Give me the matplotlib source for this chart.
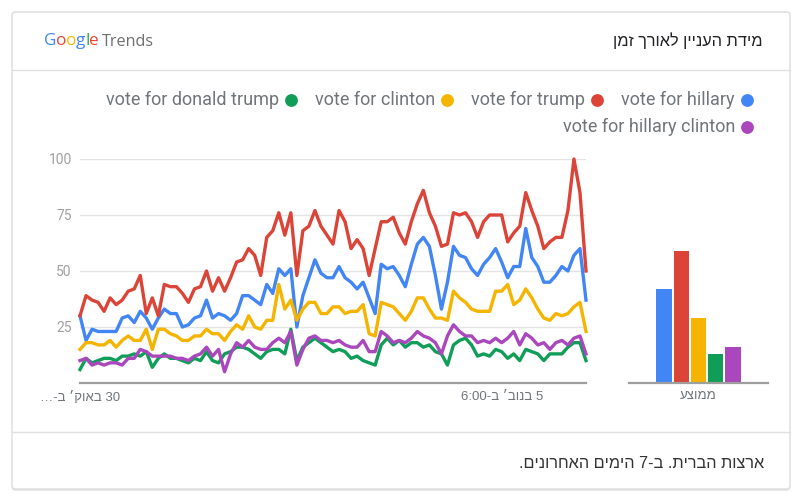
import re
import numpy as np
import matplotlib
matplotlib.use("Agg")
import matplotlib.pyplot as plt
from matplotlib.patches import FancyBboxPatch

# ---------------- data ----------------
series_names = ["vote for hillary", "vote for trump", "vote for clinton",
                "vote for donald trump", "vote for hillary clinton"]
series_colors = ["#4285F4", "#DB4437", "#F4B400", "#0F9D58", "#AB47BC"]

hours = np.arange(85) * 2  # every two hours over 7 days

vote_for_hillary = [30, 19, 24, 23, 23, 23, 23, 29, 30, 27, 32, 29, 24, 29, 33, 31, 31, 25, 26, 29,
                    30, 37, 29, 31, 30, 28, 31, 39, 39,
                    37, 35, 44, 40, 51, 48, 51, 25, 39, 47, 55, 49, 47, 47, 52, 47, 45, 42, 45, 38,
                    31, 53, 51, 52, 48, 43, 53, 62,
                    65, 61, 48, 33, 45, 61, 57, 56, 51, 48, 53, 56, 60, 54, 47, 52, 52, 69, 56, 52,
                    45, 45, 48, 52, 50, 57, 60, 37]
vote_for_trump = [30, 39, 37, 36, 32, 38, 35, 37, 41, 42, 48, 31, 38, 30, 44, 43, 43, 40, 36, 42,
                  43, 50, 41, 47, 41, 47, 54, 55, 60,
                  57, 48, 65, 68, 76, 66, 76, 48, 68, 70, 77, 70, 66, 62, 77, 72, 60, 64, 60, 48,
                  60, 72, 72, 74, 67, 62, 72, 80,
                  86, 76, 70, 61, 62, 76, 75, 76, 72, 65, 72, 75, 75, 75, 63, 67, 70, 85, 77, 70,
                  60, 63, 65, 65, 77, 100, 85, 50]
vote_for_clinton = [15, 18, 18, 17, 17, 19, 16, 19, 21, 19, 19, 24, 15, 24, 24, 22, 21, 19, 19, 21,
                    21, 24, 22, 22, 19, 23, 26, 24, 30,
                    25, 24, 28, 28, 44, 33, 37, 28, 33, 36, 36, 31, 31, 34, 34, 31, 32, 32, 35, 22,
                    21, 36, 35, 34, 31, 28, 32, 38,
                    38, 33, 29, 29, 28, 41, 38, 36, 33, 32, 32, 32, 41, 41, 44, 35, 37, 42, 38, 33,
                    29, 28, 31, 30, 31, 34, 36, 23]
vote_for_donald_trump = [6, 11, 9, 10, 11, 11, 10, 12, 12, 13, 12, 14, 7, 11, 13, 11, 11, 10, 9, 11,
                         10, 14, 10, 9, 13, 14, 16, 16, 15,
                         13, 11, 14, 15, 15, 13, 24, 10, 16, 18, 20, 18, 16, 14, 15, 14, 11, 12, 10, 9,
                         8, 17, 20, 17, 19, 16, 18, 18,
                         16, 17, 14, 13, 8, 17, 19, 20, 17, 12, 13, 12, 15, 14, 11, 13, 10, 15, 14, 13,
                         10, 13, 13, 13, 16, 18, 18, 10]
vote_for_hillary_clinton = [10, 11, 8, 9, 8, 9, 9, 8, 11, 11, 15, 14, 12, 12, 12, 12, 11, 11, 10, 12,
                            13, 16, 12, 15, 5, 13, 18, 16, 19,
                            16, 15, 15, 18, 20, 18, 23, 8, 15, 20, 21, 19, 19, 18, 19, 17, 16, 16, 19, 14,
                            14, 23, 21, 18, 19, 18, 20, 23,
                            21, 20, 18, 13, 21, 26, 23, 21, 21, 18, 19, 18, 20, 18, 20, 23, 17, 22, 20, 17,
                            18, 15, 18, 19, 17, 20, 21, 13]
series_values = [vote_for_hillary, vote_for_trump, vote_for_clinton,
                 vote_for_donald_trump, vote_for_hillary_clinton]

averages = [42, 59, 29, 13, 16]

y_ticks = [25, 50, 75, 100]
x_tick_hours = [0, 140]
x_tick_labels = ["30 באוק׳ ב-…", "5 בנוב׳ ב-6:00"]
title_text = "מידת העניין לאורך זמן"
average_label = "ממוצע"
footer_text = "ארצות הברית. ב-7 הימים האחרונים."


def vis(s):
    """Simple bidi: logical Hebrew string -> visual order for LTR rendering."""
    r = s[::-1]
    return re.sub(r"[0-9:]+", lambda m: m.group(0)[::-1], r)


HEB = ["Liberation Sans", "DejaVu Sans"]
LAT = ["Roboto", "DejaVu Sans"]

W, H = 803, 500
fig = plt.figure(figsize=(W / 100, H / 100), dpi=100)
fig.patch.set_facecolor("white")

# overlay in pixel coordinates for the card decoration
ov = fig.add_axes([0, 0, 1, 1])
ov.set_xlim(0, W)
ov.set_ylim(H, 0)
ov.axis("off")
ov.add_patch(FancyBboxPatch((12, 13), 778, 478, boxstyle="round,pad=0,rounding_size=3",
                            fc="#e8e8e8", ec="none", zorder=0))
ov.add_patch(FancyBboxPatch((12, 12), 778, 477, boxstyle="round,pad=0,rounding_size=3",
                            fc="white", ec="#dcdcdc", lw=1, zorder=1))
ov.plot([12, 790], [70, 70], color="#e0e0e0", lw=1, zorder=2)
ov.plot([12, 790], [432, 432], color="#e0e0e0", lw=1, zorder=2)

renderer = fig.canvas.get_renderer()


def px_width(t):
    bb = t.get_window_extent(renderer=renderer)
    return bb.width


# Google Trends logo
logo_letters = ["G", "o", "o", "g", "l", "e"]
logo_colors = ["#4285F4", "#EA4335", "#FBBC05", "#4285F4", "#34A853", "#EA4335"]
x = 44
for ch, c in zip(logo_letters, logo_colors):
    t = ov.text(x, 41, ch, color=c, fontsize=12.3, family=["Open Sans", "DejaVu Sans"],
                va="center", ha="left", zorder=3)
    x += px_width(t) - 0.3
ov.text(x + 3, 41.5, "Trends", color="#6f6f6f", fontsize=11.6, family=["Open Sans", "DejaVu Sans"],
        va="center", ha="left", zorder=3)

# Title (right)
ov.text(763, 41, vis(title_text), color="#202124", fontsize=11.8, family=HEB,
        ha="right", va="center", zorder=3)

# Footer
ov.text(764, 464, vis(footer_text), color="#333333", fontsize=11.7, family=HEB,
        ha="right", va="center", zorder=3)

# Legend, flowing right-to-left
rows_y = [100, 127]
dot_x = 747
row = 0
left_limit = 90
LEG_FS = 13.0
for name, c in zip(series_names, series_colors):
    t = ov.text(dot_x - 12, rows_y[row], name, color="#70757a", fontsize=LEG_FS, family=LAT,
                ha="right", va="center", zorder=3)
    w = px_width(t)
    if dot_x - 12 - w < left_limit:
        t.remove()
        row += 1
        dot_x = 747
        t = ov.text(dot_x - 12, rows_y[row], name, color="#70757a", fontsize=LEG_FS, family=LAT,
                    ha="right", va="center", zorder=3)
        w = px_width(t)
    ov.scatter([dot_x], [rows_y[row]], s=85, color=c, zorder=3, linewidths=0)
    dot_x = dot_x - 12 - w - 24

# ---------------- main line chart ----------------
ax = fig.add_axes([80 / W, (H - 383) / H, 506 / W, 224 / H])
ax.set_facecolor("none")
ax.set_xlim(hours[0], hours[-1])
ax.set_ylim(0, 100)
for s in ax.spines.values():
    s.set_visible(False)
ax.set_yticks(y_ticks)
ax.set_yticklabels([str(v) for v in y_ticks], family=LAT)
ax.tick_params(axis="y", length=0, pad=6, labelcolor="#a0a0a0", labelsize=10)
ax.grid(axis="y", color="#e3e3e3", lw=1)
ax.set_axisbelow(True)
ax.set_xticks(x_tick_hours)
ax.set_xticklabels([vis(s) for s in x_tick_labels], family=HEB)
ax.tick_params(axis="x", length=0, pad=6, labelcolor="#70757a", labelsize=9.5)
ax.axhline(0, color="#9e9e9e", lw=1.6, zorder=1, clip_on=False)
for vals, c in zip(series_values, series_colors):
    ax.plot(hours, vals, color=c, lw=2.4, solid_joinstyle="round", clip_on=False, zorder=3)

# ---------------- averages bar chart ----------------
bx = fig.add_axes([629 / W, (H - 383) / H, 139 / W, 224 / H])
bx.set_facecolor("none")
bx.set_ylim(0, 100)
bx.set_xlim(-2.06, 6.06)
for s in bx.spines.values():
    s.set_visible(False)
bx.bar(np.arange(len(averages)), averages, width=0.92, color=series_colors, zorder=2)
bx.axhline(0, color="#9e9e9e", lw=1.6, zorder=3, clip_on=False)
bx.set_yticks([])
bx.set_xticks([2])
bx.set_xticklabels([vis(average_label)], family=HEB)
bx.tick_params(axis="x", length=0, pad=5, labelcolor="#70757a", labelsize=9.5)

fig.savefig("out.png", dpi=100, facecolor="white")
